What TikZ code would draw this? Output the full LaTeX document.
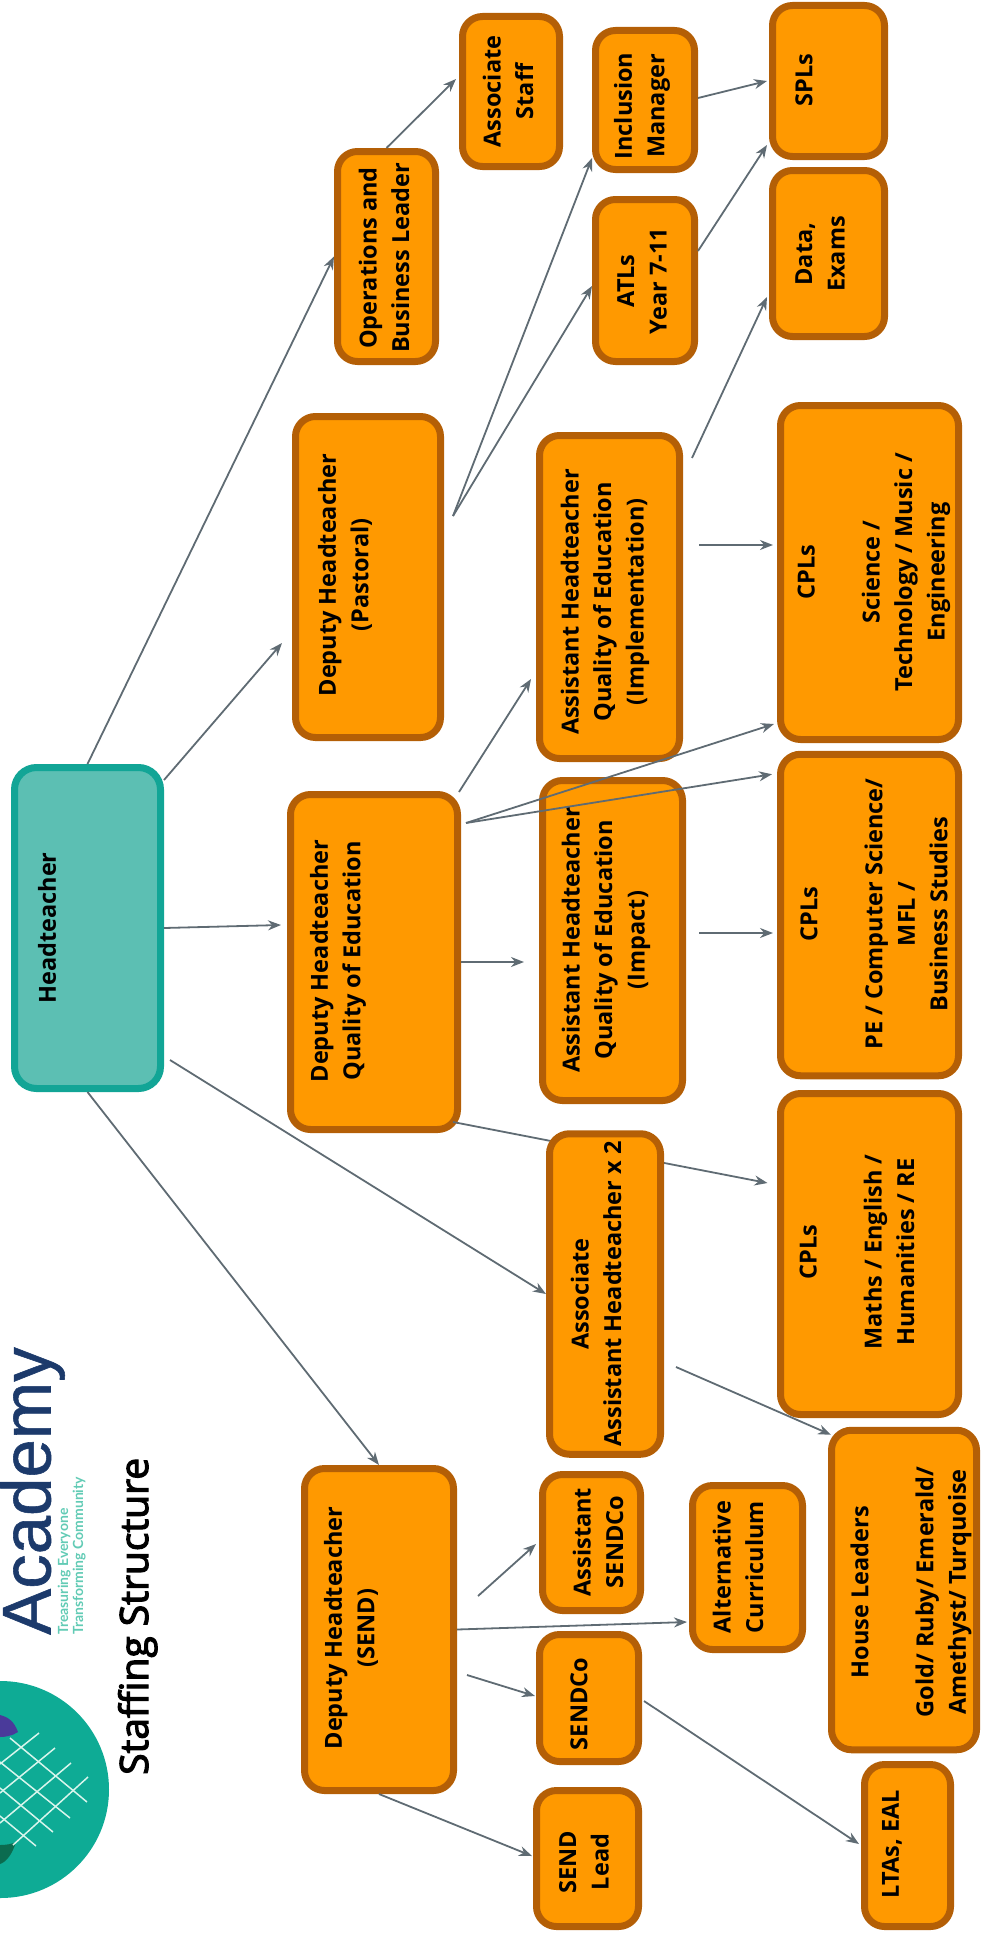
\documentclass[tikz,border=0pt]{standalone}
\usepackage{fontspec}
\setmainfont{Open Sans}
\newfontfamily\logofont[FakeBold=0.8]{Liberation Sans}
\newfontfamily\titlefont[FakeBold=3]{Open Sans}
\newfontfamily\tagfont{Lato}
\usetikzlibrary{arrows.meta}
\definecolor{orangefill}{HTML}{FF9900}
\definecolor{orangeline}{HTML}{B45F06}
\definecolor{tealfill}{HTML}{5CBFB3}
\definecolor{tealline}{HTML}{12A596}
\definecolor{connline}{HTML}{5F6B73}
\definecolor{logoteal}{HTML}{0EAB95}
\definecolor{navy}{HTML}{1C3A6B}
\definecolor{tagteal}{HTML}{62CBB5}
\definecolor{netwhite}{HTML}{D8F5EC}
\definecolor{logopurple}{HTML}{4A3A9A}
\definecolor{logogreen}{HTML}{0B6B4F}
\tikzset{
  orgbox/.style 2 args={draw=orangeline,fill=orangefill,line width=7pt,rounded corners=20pt,
    minimum width=#1pt-7pt,minimum height=#2pt-7pt,inner sep=0pt},
  topbox/.style 2 args={draw=tealline,fill=tealfill,line width=7pt,rounded corners=22pt,
    minimum width=#1pt-7pt,minimum height=#2pt-7pt,inner sep=0pt},
  lbl/.style={rotate=90,align=center,inner sep=0pt,font=\fontsize{23.5}{32.5}\selectfont\bfseries,text=black},
  conn/.style={draw=connline,line width=1.8pt,-{Stealth[length=13pt,width=10pt]}},
  netline/.style={draw=netwhite,line width=1.5pt}
}
\begin{document}
\begin{tikzpicture}[x=1pt,y=-1pt]
\useasboundingbox (0,0) rectangle (980,1940);
% logo
\begin{scope}
\clip (0,0) rectangle (980,1940);
\fill[logoteal] (0.5,1789.5) circle (108.5);
\fill[logopurple] (0,1715) .. controls (8,1717) and (14,1721) .. (18,1732) .. controls (12,1736) and (5,1737) .. (0,1737) -- cycle;
\fill[logogreen] (0,1845) .. controls (6,1845) and (12,1844) .. (16,1842) .. controls (12,1855) and (6,1862) .. (0,1864) -- cycle;
\draw[netline] (10,1738) -- (87,1802);
\draw[netline] (0,1762) -- (70,1818);
\draw[netline] (0,1788) -- (53,1832);
\draw[netline] (0,1816) -- (36,1846);
\draw[netline] (39,1733) -- (0,1764);
\draw[netline] (55,1748) -- (0,1793);
\draw[netline] (71,1763) -- (0,1823);
\draw[netline] (88,1777) -- (13,1845);
\end{scope}
\node[rotate=90,inner sep=0pt,anchor=base west,font=\fontsize{69}{69}\logofont,text=navy] (acad) at (50.5,1635) {Academy};
\node[rotate=90,inner sep=0pt,anchor=base west,font=\fontsize{14}{14}\tagfont\bfseries,text=tagteal] (tag1) at (68,1635) {Treasuring Everyone};
\node[rotate=90,inner sep=0pt,anchor=base west,font=\fontsize{14}{14}\tagfont\bfseries,text=tagteal] (tag2) at (83,1635) {Transforming Community};
\node[rotate=90,inner sep=0pt,anchor=base west,font=\fontsize{39}{39}\titlefont,text=black] (title) at (148,1775) {Staffing Structure};
% boxes
\node[topbox={153}{328}] (head) at (87.5,928) {};
\node[orgbox={104}{157}] (assocstaff) at (511,91.5) {};
\node[orgbox={106}{146}] (incl) at (645,100) {};
\node[orgbox={119}{158}] (spls) at (828.5,81) {};
\node[orgbox={119}{173}] (data) at (828.5,253.5) {};
\node[orgbox={105}{217}] (ops) at (386.5,256.5) {};
\node[orgbox={106}{169}] (atls) at (645,280.5) {};
\node[orgbox={152}{328}] (past) at (368,577) {};
\node[orgbox={147}{330}] (impl) at (609.5,597) {};
\node[orgbox={185}{341}] (sci) at (869.5,572.5) {};
\node[orgbox={174}{342}] (qoe) at (374,962) {};
\node[orgbox={147}{327}] (impact) at (612.5,940.5) {};
\node[orgbox={185}{328.5}] (pe) at (869.5,915) {};
% line that runs behind the Associate box
\node[orgbox={185}{328}] (maths) at (869.5,1254) {};
\draw[conn] ([shift={(-8,-11)}]qoe.south east) -- ([shift={(-9.5,-71)}]maths.west);
\node[orgbox={118}{327.5}] (aah) at (605,1294) {};
\node[orgbox={156}{329}] (send) at (379,1629.5) {};
\node[orgbox={105}{143}] (asco) at (591.5,1542.5) {};
\node[orgbox={117}{171}] (alt) at (747.5,1567.5) {};
\node[orgbox={106}{134}] (sco) at (589,1698) {};
\node[orgbox={152}{326.5}] (house) at (904,1590) {};
\node[orgbox={93}{169}] (ltas) at (907.5,1845.5) {};
\node[orgbox={109}{143}] (lead) at (587.5,1858.5) {};
% labels
\node[lbl] (t-head) at (47,928) {Headteacher};
\node[lbl] (t-assocstaff) at (508,91.5) {Associate\\Staff};
\node[lbl] (t-incl) at (642,106) {Inclusion\\Manager};
\node[lbl] (t-spls) at (804,80) {SPLs};
\node[lbl] (t-data) at (820,254) {Data,\\Exams};
\node[lbl] (t-ops) at (384,258) {Operations and\\Business Leader};
\node[lbl] (t-atls) at (642,281) {ATLs\\Year 7-11};
\node[lbl] (t-past) at (345,575) {Deputy Headteacher\\(Pastoral)};
\node[lbl] (t-impl) at (605,602) {Assistant Headteacher\\Quality of Education\\(Implementation)};
\node[lbl] (t-sci) at (874,572) {CPLs\\\\Science /\\Technology / Music /\\Engineering};
\node[lbl] (t-qoe) at (338,961) {Deputy Headteacher\\Quality of Education};
\node[lbl] (t-impact) at (606,940) {Assistant Headteacher\\Quality of Education\\(Impact)};
\node[lbl] (t-pe) at (874,914) {CPLs\\\\PE / Computer Science/\\MFL /\\Business Studies};
\node[lbl] (t-maths) at (857,1252) {CPLs\\\\Maths / English /\\Humanities / RE};
\node[lbl] (t-aah) at (596,1294) {Associate\\Assistant Headteacher x 2};
\node[lbl] (t-send) at (351,1628) {Deputy Headteacher\\(SEND)};
\node[lbl] (t-asco) at (598,1542) {Assistant\\SENDCo};
\node[lbl] (t-alt) at (738,1567) {Alternative\\Curriculum};
\node[lbl] (t-sco) at (579,1704) {SENDCo};
\node[lbl] (t-house) at (911,1592) {House Leaders\\\\Gold/ Ruby/ Emerald/\\Amethyst/ Turquoise};
\node[lbl] (t-ltas) at (892,1844) {LTAs, EAL};
\node[lbl] (t-lead) at (584,1862) {SEND\\Lead};
% connectors
\draw[conn] (head.north) -- (ops.west);
\draw[conn] ([shift={(0,16)}]head.north east) -- ([shift={(-10,66)}]past.west);
\draw[conn] (head.east) -- ([shift={(-6,-37)}]qoe.west);
\draw[conn] ([shift={(6,-32)}]head.south east) -- (aah.west);
\draw[conn] (head.south) -- (send.north);
\draw[conn] (ops.north) -- ([shift={(-3,-12.5)}]assocstaff.west);
\draw[conn] ([shift={(9,-61)}]past.east) -- ([shift={(0,-15)}]incl.south west);
\draw[conn] ([shift={(9,-61)}]past.east) -- ([shift={(0,5.5)}]atls.west);
\draw[conn] ([shift={(0,-2)}]incl.east) -- ([shift={(-2,0)}]spls.west);
\draw[conn] ([shift={(0,-29.5)}]atls.east) -- ([shift={(-2,-15)}]spls.south west);
\draw[conn] ([shift={(9,26)}]impl.north east) -- ([shift={(-2,43.5)}]data.west);
\draw[conn] ([shift={(16,-52)}]impl.east) -- ([shift={(-4,-27.5)}]sci.west);
\draw[conn] ([shift={(-2,1)}]qoe.north east) -- ([shift={(-5,82)}]impl.west);
\draw[conn] ([shift={(5,32)}]qoe.north east) -- ([shift={(-3,-19)}]sci.south west);
\draw[conn] ([shift={(5,32)}]qoe.north east) -- ([shift={(-5,23.5)}]pe.north west);
\draw[conn] (qoe.east) -- ([shift={(-15,21.5)}]impact.west);
\draw[conn] ([shift={(13,-7.5)}]impact.east) -- ([shift={(-4,18)}]pe.west);
\draw[conn] ([shift={(12,73)}]aah.east) -- ([shift={(3,8)}]house.north west);
\draw[conn] ([shift={(21,-33.5)}]send.east) -- ([shift={(-3,1.5)}]asco.west);
\draw[conn] (send.east) -- ([shift={(-2,54.5)}]alt.west);
\draw[conn] ([shift={(10,45.5)}]send.east) -- ([shift={(-1,-2)}]sco.west);
\draw[conn] (send.south) -- ([shift={(-1,-2.5)}]lead.west);
\draw[conn] ([shift={(2,3)}]sco.east) -- ([shift={(-2,-1.5)}]ltas.west);
\end{tikzpicture}
\end{document}
